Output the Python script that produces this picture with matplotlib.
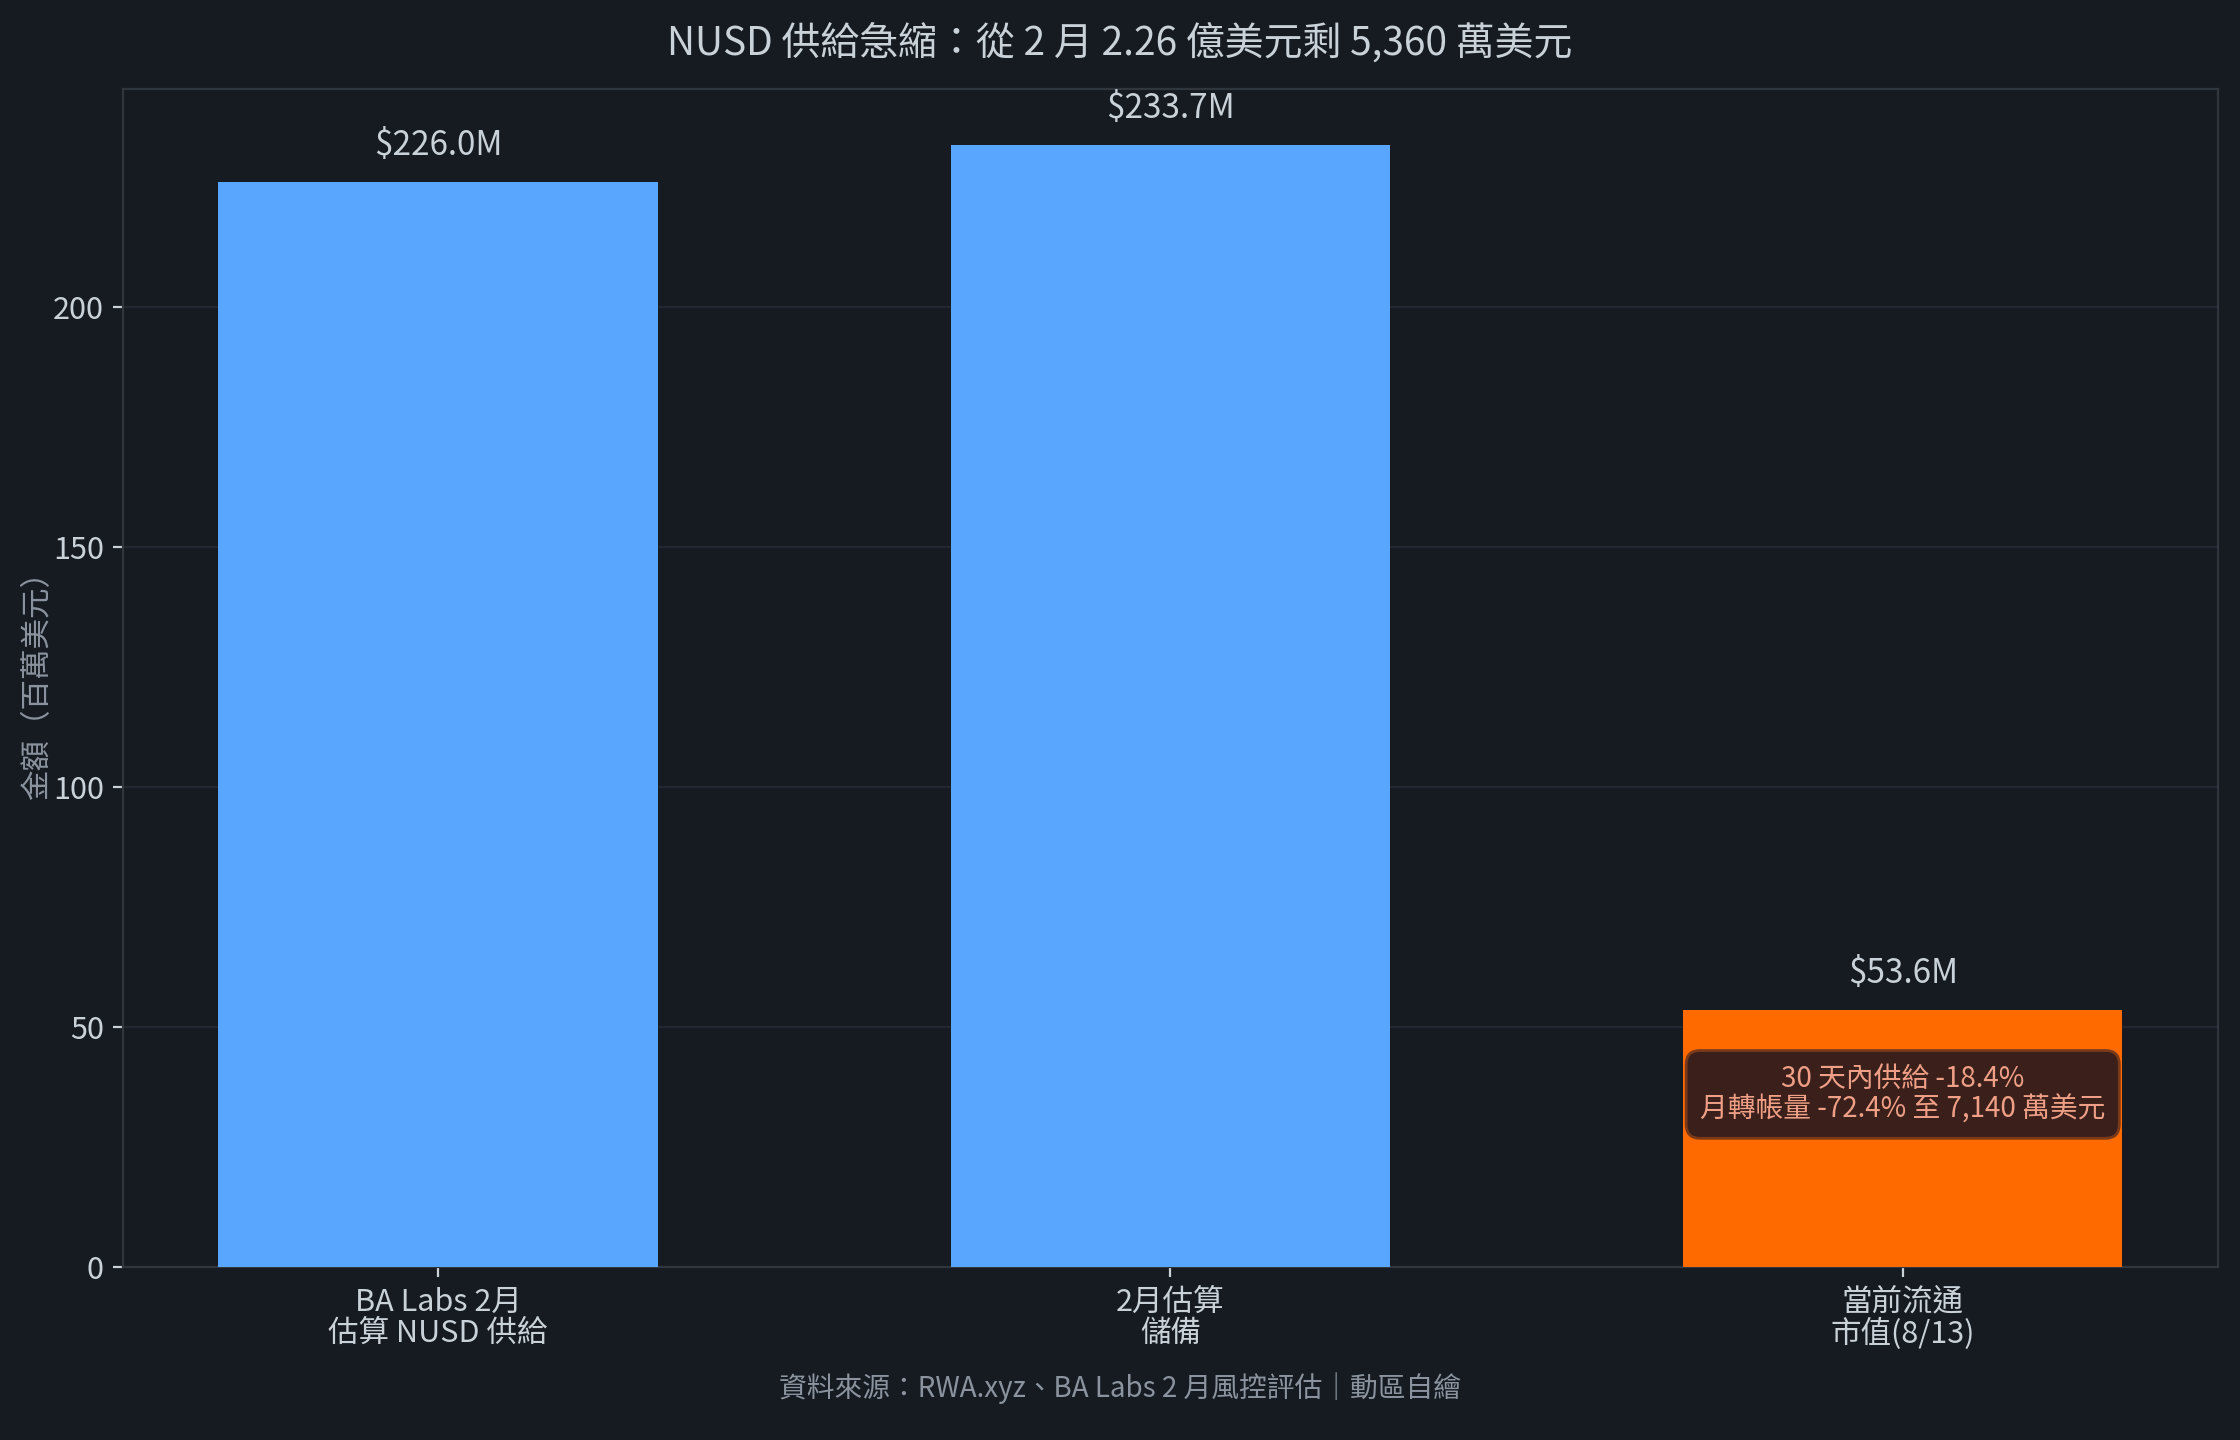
import matplotlib
matplotlib.use("Agg")
import matplotlib.pyplot as plt

plt.rcParams['font.family'] = ['Noto Sans CJK TC', 'DejaVu Sans']
plt.rcParams['font.weight'] = 'light'

# data
categories = ["BA Labs 2月\n估算 NUSD 供給", "2月估算\n儲備", "當前流通\n市值(8/13)"]
values = [226.0, 233.7, 53.6]
bar_colors = ["#58A6FF", "#58A6FF", "#FF6A00"]
value_labels = ["$226.0M", "$233.7M", "$53.6M"]
note_text = "30 天內供給 -18.4%\n月轉帳量 -72.4% 至 7,140 萬美元"

BG = "#161B22"
TEXT = "#C9D1D9"

fig, ax = plt.subplots(figsize=(11.2, 7.2), dpi=200)
fig.patch.set_facecolor(BG)
ax.set_facecolor(BG)

x = list(range(len(categories)))
ax.bar(x, values, width=0.6, color=bar_colors, zorder=3)
ax.set_ylim(0, max(values) * 1.05)

for i, (v, lab) in enumerate(zip(values, value_labels)):
    ax.text(i, v + 4, lab, ha="center", va="bottom", fontsize=12, color=TEXT)

ax.text(2, 36, note_text, ha="center", va="center", fontsize=10,
        color="#EE9F85", linespacing=1.0, zorder=4,
        bbox=dict(boxstyle="round,pad=0.5", facecolor="#3A1F1B",
                  edgecolor="#7A3A1A", linewidth=1))

ax.set_xticks(x)
ax.set_xticklabels(categories, fontsize=11, color=TEXT, linespacing=1.0)
ax.tick_params(axis="y", labelsize=11, colors=TEXT)
ax.tick_params(axis="x", colors=TEXT)
ax.set_yticks([0, 50, 100, 150, 200])
ax.set_ylabel("金額（百萬美元）", fontsize=11, color="#8B949E", labelpad=0)

ax.grid(axis="y", color="#222731", linewidth=0.8, zorder=0)
for sp in ax.spines.values():
    sp.set_color("#30363D")

fig.suptitle("NUSD 供給急縮：從 2 月 2.26 億美元剩 5,360 萬美元",
             fontsize=14, color=TEXT, y=0.984)
fig.text(0.5, 0.03, "資料來源：RWA.xyz、BA Labs 2 月風控評估｜動區自繪",
         ha="center", fontsize=10, color="#8B949E")

fig.subplots_adjust(left=0.055, right=0.99, top=0.938, bottom=0.12)
fig.savefig("out.png", dpi=200, facecolor=BG)
